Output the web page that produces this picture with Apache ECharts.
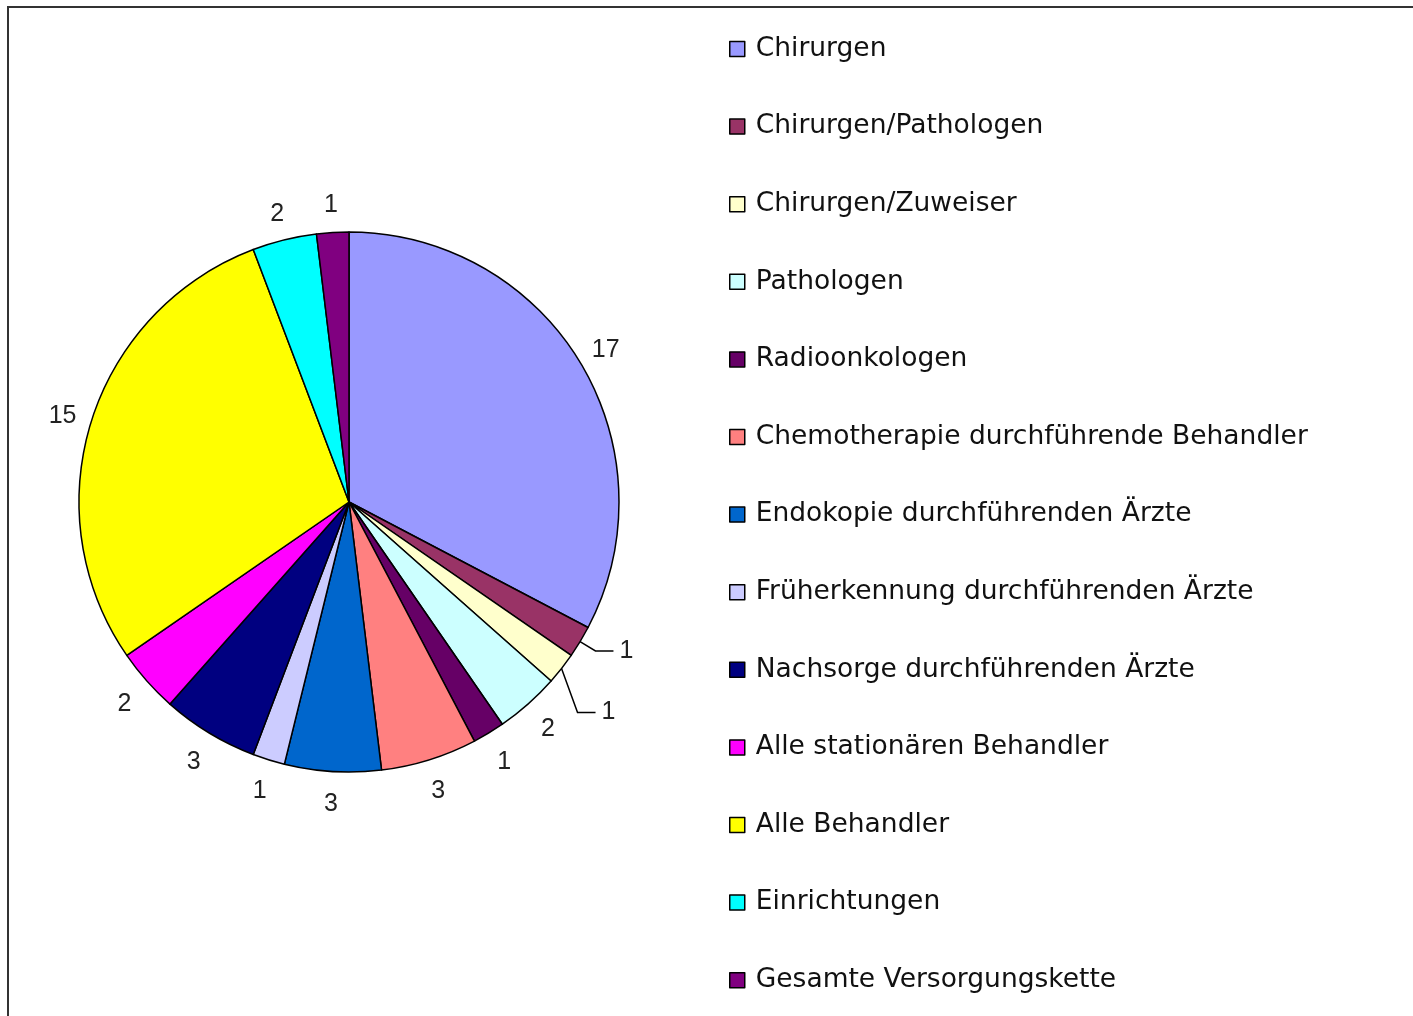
<!DOCTYPE html>
<html>
<head>
<meta charset="utf-8">
<script src="https://cdn.jsdelivr.net/npm/echarts@6/dist/echarts.min.js"></script>
<style>
  html, body { margin: 0; padding: 0; background: #fff; }
  #chart { width: 1413px; height: 1016px; }
</style>
</head>
<body>
<div id="chart"></div>
<script>
// Kategorien und Werte
var names = [
  "Chirurgen",
  "Chirurgen/Pathologen",
  "Chirurgen/Zuweiser",
  "Pathologen",
  "Radioonkologen",
  "Chemotherapie durchführende Behandler",
  "Endokopie durchführenden Ärzte",
  "Früherkennung durchführenden Ärzte",
  "Nachsorge durchführenden Ärzte",
  "Alle stationären Behandler",
  "Alle Behandler",
  "Einrichtungen",
  "Gesamte Versorgungskette"
];
var values = [17, 1, 1, 2, 1, 3, 3, 1, 3, 2, 15, 2, 1];
var colors = ["#9999FF", "#993366", "#FFFFCC", "#CCFFFF", "#660066", "#FF8080",
  "#0066CC", "#CCCCFF", "#000080", "#FF00FF", "#FFFF00", "#00FFFF", "#800080"];
// nur diese zwei bekommen eine Führungslinie
var withLine = [1, 2];

var labelFont = 'Liberation Sans, Arial, sans-serif';

// Hauptkreis: Segmente, Beschriftung nur für die zwei schmalen mit Linie
var mainData = [];
// Ring ohne Farbe: trägt die zentrierten Zahlen um den Kreis
var ringData = [];
for (var i = 0; i < names.length; i++) {
  var hasLine = withLine.indexOf(i) >= 0;
  mainData.push({
    name: names[i],
    value: values[i],
    label: { show: hasLine }
  });
  ringData.push({
    name: names[i],
    value: values[i],
    label: { show: !hasLine }
  });
}

var myChart = echarts.init(document.getElementById('chart'));
myChart.setOption({
  animation: false,
  color: colors,
  graphic: [{
    type: 'rect',
    shape: { x: 8, y: 7, width: 1440, height: 1040 },
    style: { fill: null, stroke: '#333', lineWidth: 2 }
  }],
  legend: {
    orient: 'vertical',
    left: 724,
    top: 29,
    itemWidth: 15,
    itemHeight: 15,
    itemGap: 47.6,
    icon: 'rect',
    itemStyle: { borderColor: '#000', borderWidth: 1.5 },
    textStyle: {
      fontFamily: 'DejaVu Sans, sans-serif',
      fontSize: 26.5,
      lineHeight: 30,
      color: '#111',
      padding: [0, 0, 0, 6]
    },
    data: names
  },
  series: [{
    type: 'pie',
    center: [349, 502],
    radius: 270,
    startAngle: 90,
    clockwise: true,
    itemStyle: { borderColor: '#000', borderWidth: 1.5 },
    label: {
      position: 'outside',
      formatter: '{c}',
      fontFamily: labelFont,
      fontSize: 25,
      color: '#222',
      distanceToLabelLine: 6
    },
    labelLine: {
      length: 18,
      length2: 18,
      lineStyle: { color: '#000', width: 1.5 }
    },
    labelLayout: function (p) {
      // zweite Linie steiler nach unten ziehen, wie im Original
      if (p.dataIndex === 2 && p.labelLinePoints) {
        var pts = p.labelLinePoints;
        var mid = [pts[0][0] + 16, pts[0][1] + 44];
        var end = [mid[0] + 18, mid[1]];
        return {
          dx: end[0] - pts[2][0],
          dy: end[1] - pts[2][1],
          labelLinePoints: [pts[0], mid, end]
        };
      }
    },
    emphasis: { disabled: true },
    data: mainData
  }, {
    type: 'pie',
    silent: true,
    center: [349, 505],
    radius: [279, 315],
    startAngle: 90,
    clockwise: true,
    itemStyle: { color: 'rgba(0,0,0,0)', borderWidth: 0 },
    label: {
      position: 'inside',
      formatter: '{c}',
      fontFamily: labelFont,
      fontSize: 25,
      color: '#222'
    },
    labelLine: { show: false },
    emphasis: { disabled: true },
    data: ringData
  }]
});
</script>
</body>
</html>
